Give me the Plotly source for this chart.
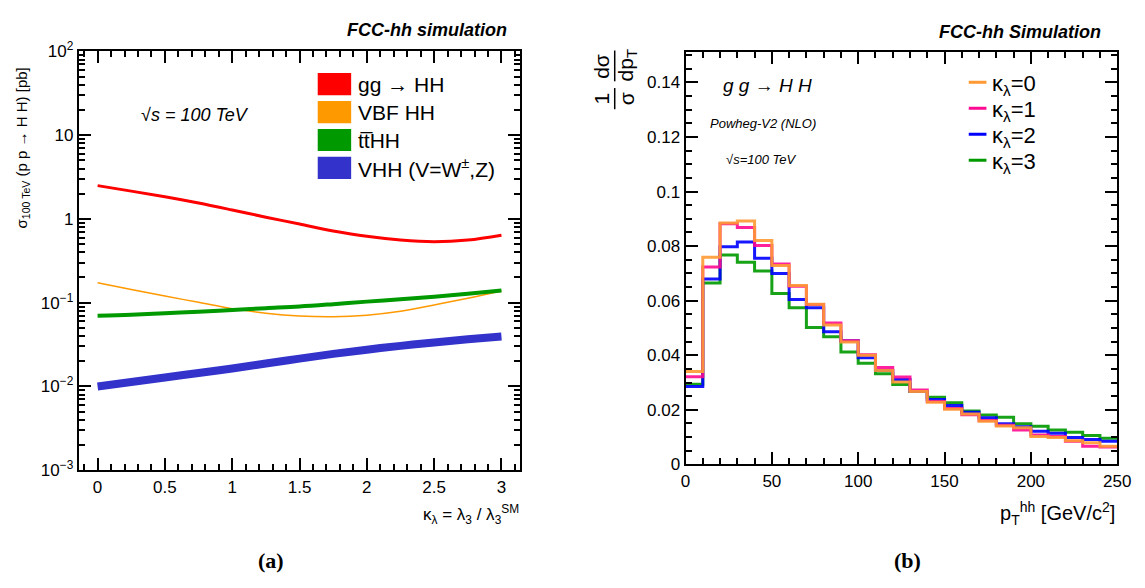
import plotly.graph_objects as go

# ---------------- data: panel (a) ----------------
kappa = [0.0, 0.25, 0.5, 0.75, 1.0, 1.25, 1.5, 1.75, 2.0, 2.25, 2.5, 2.75, 3.0]
xs_gghh = [2.50, 2.15, 1.84, 1.55, 1.28, 1.05, 0.87, 0.72, 0.62, 0.56, 0.535, 0.56, 0.64]
xs_vbf = [0.173, 0.144, 0.120, 0.101, 0.085, 0.075, 0.0695, 0.068, 0.071, 0.079, 0.094, 0.113, 0.138]
xs_tthh = [0.070, 0.072, 0.075, 0.078, 0.082, 0.086, 0.090, 0.096, 0.103, 0.110, 0.118, 0.128, 0.140]
xs_vhh = [0.0100, 0.0113, 0.0128, 0.0145, 0.0164, 0.0188, 0.0215, 0.0245, 0.0275, 0.0305, 0.0335, 0.0365, 0.0395]
names_a = ["gg \u2192 HH", "VBF HH", "tt\u0305HH", "VHH (V=W<sup>\u00b1</sup>,Z)"]

# ---------------- data: panel (b) ----------------
pt_edges = [0, 10, 20, 30, 40, 50, 60, 70, 80, 90, 100, 110, 120, 130, 140, 150,
            160, 170, 180, 190, 200, 210, 220, 230, 240, 250]
h_k0 = [0.0341, 0.0759, 0.0885, 0.0892, 0.0821, 0.0729, 0.0656, 0.0587, 0.0511, 0.0449,
        0.0400, 0.0344, 0.0302, 0.0267, 0.0228, 0.0202, 0.0185, 0.0158, 0.0141, 0.0134,
        0.0102, 0.0099, 0.0087, 0.0079, 0.0067]
h_k1 = [0.0321, 0.0724, 0.0882, 0.0868, 0.0802, 0.0735, 0.0653, 0.0586, 0.0518, 0.0453,
        0.0402, 0.0355, 0.0320, 0.0273, 0.0231, 0.0205, 0.0182, 0.0161, 0.0144, 0.0126,
        0.0108, 0.0102, 0.0085, 0.0067, 0.0064]
h_k2 = [0.0286, 0.0680, 0.0798, 0.0815, 0.0756, 0.0700, 0.0604, 0.0574, 0.0486, 0.0453,
        0.0391, 0.0344, 0.0311, 0.0267, 0.0238, 0.0216, 0.0191, 0.0171, 0.0149, 0.0138,
        0.0122, 0.0114, 0.0099, 0.0091, 0.0085]
h_k3 = [0.0294, 0.0665, 0.0768, 0.0741, 0.0709, 0.0626, 0.0574, 0.0502, 0.0468, 0.0412,
        0.0371, 0.0332, 0.0293, 0.0267, 0.0246, 0.0226, 0.0196, 0.0181, 0.0173, 0.0149,
        0.0140, 0.0126, 0.0118, 0.0106, 0.0096]
names_b = ["\u03ba<sub>\u03bb</sub>=0", "\u03ba<sub>\u03bb</sub>=1",
           "\u03ba<sub>\u03bb</sub>=2", "\u03ba<sub>\u03bb</sub>=3"]

# tick labels
xa_ticks = [0, 0.5, 1, 1.5, 2, 2.5, 3]
xa_labels = ["0", "0.5", "1", "1.5", "2", "2.5", "3"]
ya_ticks = [1e-3, 1e-2, 1e-1, 1, 10, 100]
ya_labels = ["10<sup>\u22123</sup>", "10<sup>\u22122</sup>", "10<sup>\u22121</sup>", "1", "10", "10<sup>2</sup>"]
xb_ticks = [0, 50, 100, 150, 200, 250]
xb_labels = ["0", "50", "100", "150", "200", "250"]
yb_ticks = [0, 0.02, 0.04, 0.06, 0.08, 0.10, 0.12, 0.14]
yb_labels = ["0", "0.02", "0.04", "0.06", "0.08", "0.1", "0.12", "0.14"]

W, H = 1145, 588
FONT = "Liberation Sans, Arial, Helvetica, sans-serif"

colors_a = ["#ff0000", "#ff9900", "#009900", "#3333cc"]
widths_a = [3, 1.5, 4, 8]
colors_b = ["#ff9933", "#ff0a93", "#0000ff", "#009900"]


def px(x):
    return x / W


def py(y):
    return 1 - y / H


fig = go.Figure()

# panel (a) curves (draw order: red, orange, green, blue)
for ys, c, w in zip([xs_gghh, xs_vbf, xs_tthh, xs_vhh], colors_a, widths_a):
    fig.add_trace(go.Scatter(x=kappa, y=ys, mode="lines", line=dict(color=c, width=w, shape="spline"),
                             xaxis="x", yaxis="y", showlegend=False, hoverinfo="skip"))

# panel (b) histograms (draw order: k3, k2, k1, k0)
hists = [h_k0, h_k1, h_k2, h_k3]
for i in [3, 2, 1, 0]:
    vals = hists[i] + [hists[i][-1]]
    fig.add_trace(go.Scatter(x=pt_edges, y=vals, mode="lines", line=dict(color=colors_b[i], width=3, shape="hv"),
                             xaxis="x2", yaxis="y2", showlegend=False, hoverinfo="skip", opacity=0.9))

# geometry (pixels)
A_L, A_R, A_T, A_B = 75, 524, 41, 476
B_L, B_R, B_T, B_B = 692, 1131, 42, 470

axis_common = dict(showline=True, linecolor="black", linewidth=2, mirror="ticks", ticks="inside",
                   tickcolor="black", tickwidth=1.5, ticklen=12, showgrid=False, zeroline=False,
                   tickfont=dict(family=FONT, size=17, color="black"))

minor_y_a = []
for e in [1e-3, 1e-2, 1e-1, 1, 10]:
    for m in range(2, 10):
        minor_y_a.append(m * e)

fig.update_layout(
    width=W, height=H, margin=dict(l=0, r=0, t=0, b=0),
    paper_bgcolor="white", plot_bgcolor="white", showlegend=False,
    xaxis=dict(domain=[px(A_L), px(A_R)], range=[-0.14, 3.14], tickmode="array", tickvals=xa_ticks,
               ticktext=xa_labels, minor=dict(ticks="inside", ticklen=6, tickcolor="black", dtick=0.1, tick0=0),
               anchor="y", **axis_common),
    yaxis=dict(domain=[py(A_B), py(A_T)], type="log", range=[-3, 2], tickmode="array", tickvals=ya_ticks,
               ticktext=ya_labels, minor=dict(ticks="inside", ticklen=6, tickcolor="black", tickmode="array",
                                              tickvals=minor_y_a),
               anchor="x", **axis_common),
    xaxis2=dict(domain=[px(B_L), px(B_R)], range=[0, 250.01], tickmode="array", tickvals=xb_ticks,
                ticktext=xb_labels, ticklabeloverflow="allow",
                minor=dict(ticks="inside", ticklen=6, tickcolor="black", dtick=10, tick0=0),
                anchor="y2", **axis_common),
    yaxis2=dict(domain=[py(B_B), py(B_T)], range=[0, 0.151], tickmode="array", tickvals=yb_ticks,
                ticktext=yb_labels, minor=dict(ticks="inside", ticklen=6, tickcolor="black", dtick=0.005, tick0=0),
                anchor="x2", **axis_common),
)

ann = []
shapes = []


def text(x, y, s, size, xanchor="left", yanchor="middle", angle=0, family=FONT):
    ann.append(dict(x=px(x), y=py(y), xref="paper", yref="paper", text=s, showarrow=False,
                    xanchor=xanchor, yanchor=yanchor, textangle=angle,
                    font=dict(family=family, size=size, color="black")))


# panel (a) texts
text(512, 19, "<b><i>FCC-hh simulation</i></b>", 18, xanchor="right")
text(136, 107, "<i>\u221as = 100 TeV</i>", 18)
text(18, 141, "\u03c3<sub>100 TeV</sub> (p p \u2192 H H) [pb]", 15, xanchor="center", angle=-90)
text(525, 522, "\u03ba<sub>\u03bb</sub> = \u03bb<sub>3</sub> / \u03bb<sub>3</sub><sup>SM</sup>", 17,
     xanchor="right")
text(270, 570, "<b>(a)</b>", 22, xanchor="center", family="Liberation Serif, Times New Roman, serif")

# panel (a) legend
rows_a = [75, 104, 133, 162]
for name, c, yy in zip(names_a, colors_a, rows_a):
    shapes.append(dict(type="rect", xref="paper", yref="paper", x0=px(318), x1=px(352), y0=py(yy - 11.5),
                       y1=py(yy + 11.5), fillcolor=c, line=dict(width=0)))
    text(357, yy, name, 21)

# panel (b) texts
text(1117, 21, "<b><i>FCC-hh Simulation</i></b>", 18, xanchor="right")
text(728, 76, "<i>g g \u2192 H H</i>", 19)
text(715, 116, "<i>Powheg-V2 (NLO)</i>", 13)
text(731, 153, "<i>\u221as=100 TeV</i>", 13)
text(1131, 521, "p<sub>T</sub><sup>hh</sup> [GeV/c<sup>2</sup>]", 20, xanchor="right")
text(918, 570, "<b>(b)</b>", 22, xanchor="center", family="Liberation Serif, Times New Roman, serif")

# right y-axis title as fraction
text(607, 90, "1", 21, xanchor="center", angle=-90)
text(632, 90, "\u03c3", 21, xanchor="center", angle=-90)
shapes.append(dict(type="line", xref="paper", yref="paper", x0=px(620), x1=px(620), y0=py(79), y1=py(101),
                   line=dict(color="black", width=1.5)))
text(607, 56, "d\u03c3", 21, xanchor="center", angle=-90)
text(632, 56, "dp<sub>T</sub>", 21, xanchor="center", angle=-90)
shapes.append(dict(type="line", xref="paper", yref="paper", x0=px(620), x1=px(620), y0=py(40), y1=py(72),
                   line=dict(color="black", width=1.5)))

# panel (b) legend
rows_b = [73, 100, 127, 154]
for name, c, yy in zip(names_b, colors_b, rows_b):
    shapes.append(dict(type="line", xref="paper", yref="paper", x0=px(980), x1=px(998), y0=py(yy), y1=py(yy),
                       line=dict(color=c, width=3)))
    text(1002, yy + 3, name, 22)

fig.update_layout(annotations=ann, shapes=shapes)
fig.write_html("out.html")
